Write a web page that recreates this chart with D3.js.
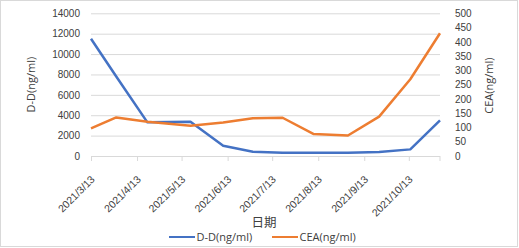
<!DOCTYPE html>
<html lang="zh">
<head>
<meta charset="UTF-8">
<title>D-D / CEA</title>
<style>
  body { margin: 0; background: #fff; }
  svg { display: block; font-family: "Open Sans", "Noto Sans CJK SC", sans-serif; }
  .tick text { fill: #404040; font-size: 10px; }
  .x-axis .tick text { font-size: 10.5px; }
  .axis-title { fill: #404040; font-size: 11px; }
  .legend-label { fill: #404040; font-size: 11px; }
  .grid line { stroke: #d9d9d9; }
  .grid .domain { display: none; }
</style>
</head>
<body>
<svg width="519" height="248"></svg>
<script src="https://cdn.jsdelivr.net/npm/d3@7"></script>
<script>
// data
const dates = ["2021-03-13", "2021-03-30", "2021-04-20", "2021-05-19", "2021-06-10", "2021-06-30",
               "2021-07-20", "2021-08-10", "2021-09-02", "2021-09-23", "2021-10-14", "2021-11-03"];
const ddValues = [11500, 7800, 3300, 3370, 1000, 420, 320, 320, 330, 400, 650, 3500];
const ceaValues = [97, 135, 120, 106, 117, 132, 134, 77, 72, 138, 269, 430];
const tickLabels = ["2021-03-13", "2021-04-13", "2021-05-13", "2021-06-13",
                    "2021-07-13", "2021-08-13", "2021-09-13", "2021-10-13"];
const seriesNames = ["D-D(ng/ml)", "CEA(ng/ml)"];
const seriesColors = ["#4472c4", "#ed7d31"];

const parse = d3.timeParse("%Y-%m-%d");
const fmt = d3.timeFormat("%Y/%-m/%-d");
const dd = dates.map((d, i) => ({ date: parse(d), v: ddValues[i] }));
const cea = dates.map((d, i) => ({ date: parse(d), v: ceaValues[i] }));

const svg = d3.select("svg");
const plot = { left: 91, right: 440, top: 13.3, bottom: 156 };

svg.append("rect")
    .attr("x", 0.5).attr("y", 0.5)
    .attr("width", 517).attr("height", 246)
    .attr("fill", "#fff").attr("stroke", "#d9d9d9");

const x = d3.scaleTime().domain([parse(dates[0]), parse(dates[dates.length - 1])]).range([plot.left, plot.right]);
const yL = d3.scaleLinear().domain([0, 14000]).range([plot.bottom, plot.top]);
const yR = d3.scaleLinear().domain([0, 500]).range([plot.bottom, plot.top]);

// gridlines + left labels
const gl = svg.append("g")
    .attr("class", "grid")
    .attr("transform", `translate(${plot.left},0)`)
    .call(d3.axisLeft(yL).tickValues(d3.range(0, 14001, 2000)).tickSize(-(plot.right - plot.left)).tickFormat(d3.format("d")));
gl.selectAll(".tick text").attr("x", -11);

// right labels
svg.append("g")
    .attr("transform", `translate(${plot.right},0)`)
    .call(d3.axisRight(yR).tickValues(d3.range(0, 501, 50)).tickSize(0).tickPadding(15))
    .call(g => g.select(".domain").remove());

// x axis
const xa = svg.append("g")
    .attr("class", "x-axis")
    .attr("transform", `translate(0,${plot.bottom})`)
    .call(d3.axisBottom(x).tickValues(tickLabels.map(parse)).tickFormat(fmt).tickSize(5).tickSizeOuter(0));
xa.select(".domain").attr("stroke", "#d9d9d9").attr("d", `M${plot.left},0.5H${plot.right}`);
xa.selectAll(".tick line").attr("stroke", "#d9d9d9");
xa.append("line").attr("x1", plot.right).attr("x2", plot.right).attr("y1", 0).attr("y2", 5).attr("stroke", "#d9d9d9");
xa.selectAll(".tick text")
    .attr("text-anchor", "end")
    .attr("x", 0).attr("y", 0).attr("dy", 0)
    .attr("transform", "translate(4,24) rotate(-45)");

// lines
const lineL = d3.line().x(d => x(d.date)).y(d => yL(d.v));
const lineR = d3.line().x(d => x(d.date)).y(d => yR(d.v));
svg.append("path").datum(dd).attr("d", lineL)
    .attr("fill", "none").attr("stroke", seriesColors[0]).attr("stroke-width", 2.5).attr("stroke-linejoin", "round");
svg.append("path").datum(cea).attr("d", lineR)
    .attr("fill", "none").attr("stroke", seriesColors[1]).attr("stroke-width", 2.5).attr("stroke-linejoin", "round");

// axis titles
svg.append("text").attr("class", "axis-title")
    .attr("transform", `translate(35,${(plot.top + plot.bottom) / 2}) rotate(-90)`)
    .attr("text-anchor", "middle").text(seriesNames[0]);
svg.append("text").attr("class", "axis-title")
    .attr("transform", `translate(493,${(plot.top + plot.bottom) / 2 + 1}) rotate(-90)`)
    .attr("text-anchor", "middle").text(seriesNames[1]);
svg.append("text").attr("class", "axis-title")
    .attr("x", 264).attr("y", 227)
    .attr("text-anchor", "middle").style("font-size", "12.5px").text("日期");

// legend
const legendX = [169, 272];
const legend = svg.selectAll(".legend")
    .data(seriesNames)
    .enter().append("g")
    .attr("class", "legend")
    .attr("transform", (d, i) => `translate(${legendX[i]},237)`);
legend.append("line")
    .attr("x1", 0).attr("x2", 26)
    .attr("stroke", (d, i) => seriesColors[i]).attr("stroke-width", 2);
legend.append("text")
    .attr("class", "legend-label")
    .attr("x", 27.5).attr("dy", "0.35em")
    .text(d => d);
</script>
</body>
</html>
